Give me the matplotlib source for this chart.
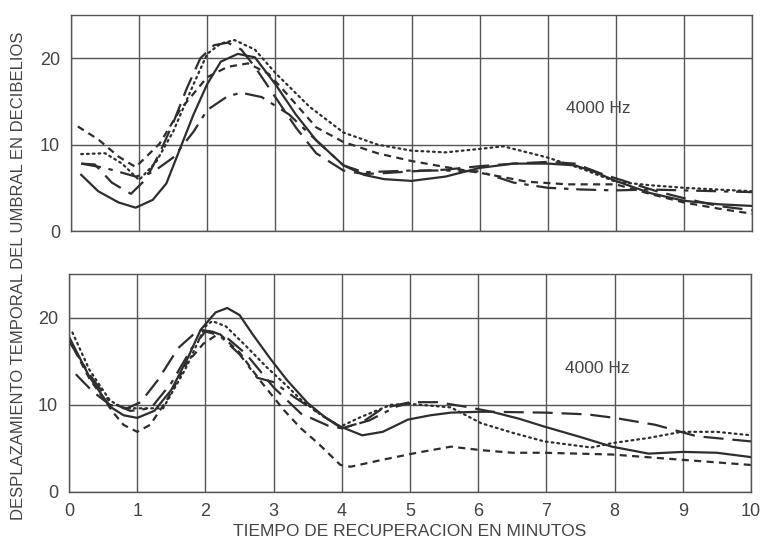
import matplotlib.pyplot as plt
import numpy as np

plt.rcParams['font.family'] = ['Liberation Sans', 'DejaVu Sans']

# ---- top panel (4000 Hz) ----
top_solid_x = [0.15, 0.4, 0.7, 0.95, 1.2, 1.4, 1.6, 1.8, 2.0, 2.2, 2.45, 2.7, 3.0, 3.3, 3.6, 4.0, 4.3, 4.6, 5.0, 5.5, 6.0, 6.5, 7.0, 7.4, 7.7, 8.0, 8.5, 9.0, 9.5, 10.0]
top_solid_y = [6.5, 4.6, 3.3, 2.7, 3.6, 5.5, 9.5, 13.5, 17.0, 19.6, 20.5, 20.1, 17.0, 13.5, 10.5, 7.6, 6.5, 6.0, 5.8, 6.3, 7.3, 7.8, 7.8, 7.6, 6.8, 5.8, 4.4, 3.5, 3.1, 2.9]

top_long_x = [0.15, 0.35, 0.6, 0.88, 1.1, 1.3, 1.5, 1.7, 1.9, 2.1, 2.3, 2.5, 2.7, 3.0, 3.3, 3.6, 4.0, 4.3, 4.6, 5.0, 5.5, 6.0, 6.5, 7.0, 7.4, 7.8, 8.2, 8.6, 9.0, 9.5, 10.0]
top_long_y = [7.8, 7.7, 5.6, 4.3, 6.0, 9.0, 12.5, 16.5, 20.0, 21.5, 21.8, 21.0, 19.0, 15.5, 12.0, 9.0, 7.0, 6.6, 6.7, 6.9, 7.1, 7.5, 7.8, 8.0, 7.8, 6.6, 5.6, 4.6, 3.8, 2.9, 2.4]

top_short_x = [0.1, 0.4, 0.7, 0.95, 1.3, 1.6, 2.0, 2.3, 2.6, 2.9, 3.2, 3.6, 4.0, 4.5, 5.0, 5.5, 6.1, 6.7, 7.3, 8.0, 8.5, 9.0, 9.5, 10.0]
top_short_y = [12.1, 10.6, 8.6, 7.4, 10.1, 14.0, 17.8, 19.0, 19.4, 18.2, 15.6, 12.0, 10.3, 9.0, 8.1, 7.4, 6.6, 5.7, 5.4, 5.4, 4.3, 3.3, 2.6, 2.0]

top_dot_x = [0.15, 0.5, 0.75, 1.0, 1.25, 1.5, 1.8, 2.0, 2.2, 2.4, 2.7, 3.0, 3.5, 4.0, 4.5, 5.0, 5.5, 6.0, 6.35, 7.0, 7.5, 8.0, 8.5, 9.0, 9.5, 10.0]
top_dot_y = [8.9, 9.0, 7.8, 5.9, 8.0, 11.5, 17.0, 20.5, 21.7, 22.1, 21.0, 18.3, 14.4, 11.4, 10.0, 9.3, 9.1, 9.5, 9.8, 8.5, 7.2, 5.7, 5.3, 5.0, 4.8, 4.6]

top_dashdot_x = [0.15, 0.5, 0.95, 1.2, 1.5, 1.8, 2.0, 2.3, 2.5, 2.8, 3.2, 3.6, 4.0, 4.3, 5.0, 5.5, 6.0, 6.5, 7.0, 7.5, 8.0, 8.5, 9.0, 9.5, 10.0]
top_dashdot_y = [7.8, 7.3, 6.3, 6.8, 8.5, 11.5, 14.0, 15.6, 16.0, 15.5, 13.5, 10.5, 7.6, 6.8, 7.0, 7.0, 6.9, 5.6, 5.0, 4.8, 4.7, 4.8, 4.7, 4.6, 4.5]

# ---- bottom panel (4000 Hz) ----
bot_solid_x = [0.0, 0.3, 0.6, 0.8, 1.0, 1.25, 1.5, 1.75, 1.93, 2.15, 2.32, 2.5, 2.7, 2.96, 3.2, 3.5, 3.75, 3.98, 4.3, 4.6, 4.97, 5.3, 5.6, 6.0, 6.2, 6.6, 6.97, 7.5, 7.96, 8.5, 9.0, 9.5, 10.0]
bot_solid_y = [17.8, 13.2, 9.8, 8.8, 8.5, 9.3, 11.7, 15.5, 18.6, 20.6, 21.1, 20.3, 18.0, 15.2, 12.8, 10.2, 8.6, 7.5, 6.5, 6.9, 8.3, 8.8, 9.1, 9.2, 9.2, 8.4, 7.5, 6.3, 5.2, 4.4, 4.6, 4.5, 4.0]

bot_long_x = [0.1, 0.35, 0.6, 0.85, 1.05, 1.3, 1.6, 1.9, 2.1, 2.3, 2.6, 3.0, 3.4, 3.8, 4.0, 4.3, 4.6, 5.0, 5.4, 5.8, 6.2, 7.0, 7.6, 8.0, 8.6, 9.2, 10.0]
bot_long_y = [13.5, 11.5, 10.0, 9.6, 10.3, 12.8, 16.5, 18.6, 18.4, 17.8, 15.8, 12.0, 9.0, 7.6, 7.3, 8.0, 9.6, 10.3, 10.3, 9.8, 9.2, 9.1, 8.9, 8.5, 7.7, 6.4, 5.8]

bot_short_x = [0.0, 0.3, 0.65, 0.8, 1.0, 1.19, 1.44, 1.73, 1.97, 2.2, 2.5, 2.8, 3.15, 3.4, 3.65, 3.98, 4.13, 4.6, 5.1, 5.6, 6.04, 6.5, 6.97, 7.96, 8.98, 10.0]
bot_short_y = [17.5, 13.0, 9.1, 7.7, 6.9, 7.7, 10.6, 14.8, 17.0, 18.2, 16.0, 12.8, 9.4, 7.3, 5.6, 3.1, 2.9, 3.7, 4.5, 5.2, 4.8, 4.5, 4.5, 4.3, 3.7, 3.1]

bot_dot_x = [0.05, 0.3, 0.6, 0.8, 0.94, 1.38, 1.7, 2.0, 2.1, 2.3, 2.6, 2.9, 3.15, 3.4, 3.7, 3.98, 4.28, 4.72, 5.0, 5.6, 6.04, 6.5, 6.97, 7.66, 7.96, 8.5, 8.98, 9.5, 10.0]
bot_dot_y = [18.3, 14.0, 10.5, 9.6, 9.6, 9.6, 14.0, 19.0, 19.6, 19.0, 16.7, 14.3, 12.5, 10.6, 8.8, 7.5, 8.6, 10.0, 10.1, 9.7, 7.9, 6.8, 5.8, 5.1, 5.6, 6.2, 6.9, 6.9, 6.5]

bot_dashdot_x = [0.0, 0.3, 0.6, 0.9, 1.2, 1.5, 1.8, 2.0, 2.2, 2.5, 2.76, 3.0, 3.3, 3.65, 4.0, 4.4, 4.8, 5.0]
bot_dashdot_y = [17.3, 13.5, 10.3, 9.3, 9.6, 12.5, 16.5, 18.4, 18.0, 15.8, 13.1, 12.6, 10.9, 9.1, 7.3, 8.2, 9.8, 10.2]

x_ticks = list(range(0, 11))
y_ticks = [0, 10, 20]
freq_label = '4000 Hz'
xlabel = 'TIEMPO DE RECUPERACION EN MINUTOS'
ylabel = 'DESPLAZAMIENTO TEMPORAL DEL UMBRAL EN DECIBELIOS'

ink = '#2e2e2e'
grid_c = '#555555'
text_c = '#444444'

fig = plt.figure(figsize=(7.61, 5.40), dpi=100)
ax_top = fig.add_axes([71 / 761, 1 - 231 / 540, 681 / 761, 216 / 540])
ax_bot = fig.add_axes([69 / 761, 1 - 492 / 540, 682 / 761, 218 / 540])

styles = {
    'solid': dict(linestyle='-'),
    'long': dict(dashes=(9, 4)),
    'short': dict(dashes=(3.2, 2.4)),
    'dot': dict(dashes=(0.8, 1.8), dash_capstyle='round'),
    'dashdot': dict(dashes=(9, 3.5, 2, 3.5)),
}


def draw(ax, x, y, kind):
    ax.plot(x, y, color=ink, linewidth=1.6, **styles[kind])


draw(ax_top, top_solid_x, top_solid_y, 'solid')
draw(ax_top, top_long_x, top_long_y, 'long')
draw(ax_top, top_short_x, top_short_y, 'short')
draw(ax_top, top_dot_x, top_dot_y, 'dot')
draw(ax_top, top_dashdot_x, top_dashdot_y, 'dashdot')

draw(ax_bot, bot_solid_x, bot_solid_y, 'solid')
draw(ax_bot, bot_long_x, bot_long_y, 'long')
draw(ax_bot, bot_short_x, bot_short_y, 'short')
draw(ax_bot, bot_dot_x, bot_dot_y, 'dot')
draw(ax_bot, bot_dashdot_x, bot_dashdot_y, 'dashdot')

for ax in (ax_top, ax_bot):
    ax.set_xlim(0, 10)
    ax.set_ylim(0, 25)
    ax.set_xticks(x_ticks)
    ax.set_yticks(y_ticks)
    ax.grid(True, color=grid_c, linewidth=1.0)
    ax.set_axisbelow(True)
    for sp in ax.spines.values():
        sp.set_color(grid_c)
        sp.set_linewidth(1.0)
    ax.tick_params(length=0, labelsize=13, labelcolor=text_c, pad=8)
    ax.text(7.75, 14.2, freq_label, fontsize=12.5, color=text_c, ha='center', va='center')

ax_top.tick_params(labelbottom=False)
fig.text(410 / 761, 1 - 532 / 540, xlabel, fontsize=12.5, color=text_c, ha='center', va='center')
fig.text(0.024, 0.49, ylabel, rotation=90, fontsize=12, color=text_c, ha='center', va='center')

fig.savefig('out.png', dpi=100)
